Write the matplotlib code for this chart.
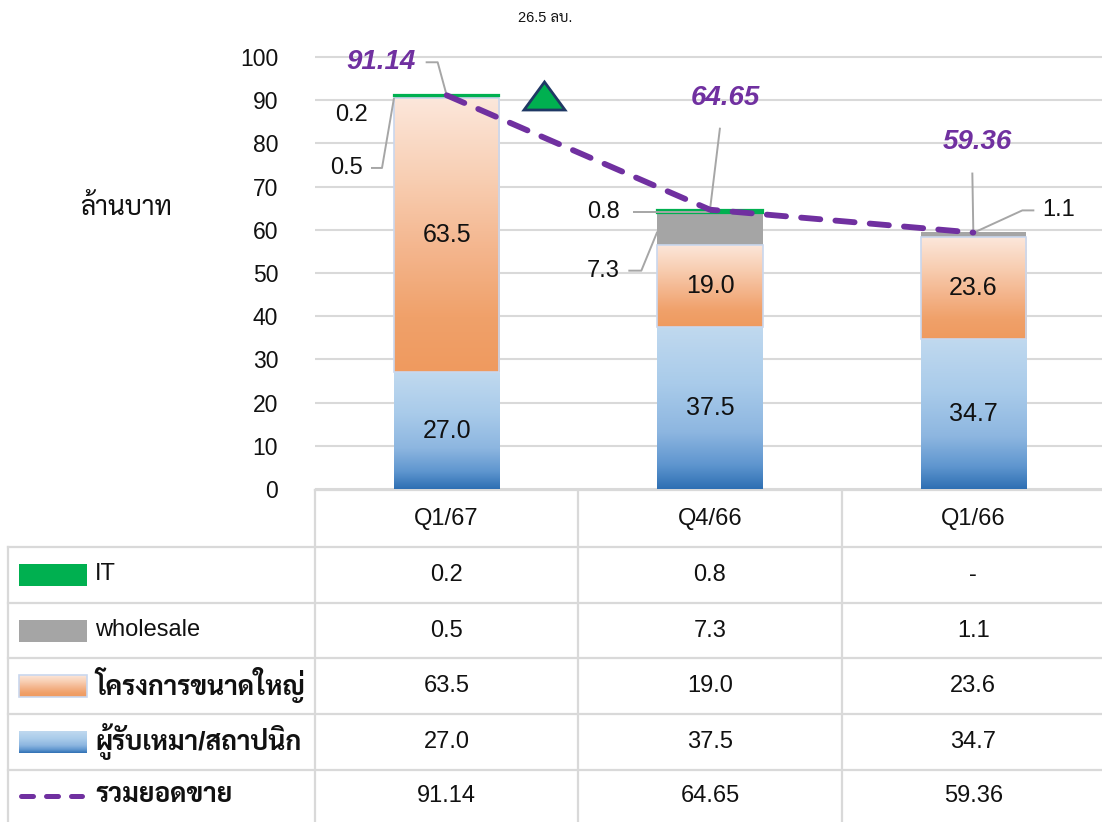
import numpy as np
import matplotlib
matplotlib.use("Agg")
import matplotlib.pyplot as plt
from matplotlib.colors import LinearSegmentedColormap
from matplotlib.patches import Rectangle, Polygon

# ---------------- data ----------------
categories = ["Q1/67", "Q4/66", "Q1/66"]
contractor = [27.0, 37.5, 34.7]        # ผู้รับเหมา/สถาปนิก
large_project = [63.5, 19.0, 23.6]     # โครงการขนาดใหญ่
wholesale = [0.5, 7.3, 1.1]
it = [0.2, 0.8, 0.0]
total = [91.14, 64.65, 59.36]
it_table = ["0.2", "0.8", "-"]
series_names = ["IT", "wholesale", "โครงการขนาดใหญ่", "ผู้รับเหมา/สถาปนิก", "รวมยอดขาย"]
yticks = list(range(0, 101, 10))
y_label = "ล้านบาท"
top_note = "26.5 ลบ."

# ---------------- style ----------------
FAM = ['Liberation Sans', 'Sarabun', 'Noto Sans Thai', 'Athiti', 'DejaVu Sans']
plt.rcParams['font.family'] = FAM

BLUE_CM = LinearSegmentedColormap.from_list(
    "blue", [(0, '#C0D9EF'), (0.35, '#A9CBEA'), (0.65, '#8DB6E0'), (0.85, '#5F96CF'), (1, '#2E6FB3')])
ORANGE_CM = LinearSegmentedColormap.from_list(
    "orange", [(0, '#FCE7DB'), (0.3, '#F8CEB2'), (0.55, '#F4B68E'), (0.8, '#F0A16A'), (1, '#EF9A5F')])
GREEN = '#00B050'
GRAY = '#A5A5A5'
PURPLE = '#7030A0'
GRID = '#D9D9D9'
LEADER = '#A6A6A6'
TXT = '#111111'

W, H = 1102, 822
fig = plt.figure(figsize=(W / 100, H / 100), dpi=100)

# overlay axes in pixel coordinates (top-left origin) for table & annotations
ov = fig.add_axes([0, 0, 1, 1])
ov.set_xlim(0, W)
ov.set_ylim(H, 0)
ov.axis('off')

# main chart axes
ax = fig.add_axes([315 / W, (H - 489) / H, 790 / W, 489 / H])
ax.patch.set_visible(False)
XLIM = (-0.5, 2.5)
YLIM = (0, 489 / 4.32)
ax.set_xlim(*XLIM)
ax.set_ylim(*YLIM)
for s in ax.spines.values():
    s.set_visible(False)
ax.set_xticks([])
ax.set_yticks(yticks)
ax.tick_params(axis='y', length=0, pad=26.5, labelsize=16.5, labelcolor=TXT)
ax.yaxis.grid(True, color=GRID, linewidth=1.5)
ax.set_axisbelow(True)

PX = ov.transData  # pixel transform for annotation artists drawn on the chart axes

x = np.arange(len(categories))
bw = 0.4
c = np.array(contractor)
lp = np.array(large_project)
ws = np.array(wholesale)
itv = np.array(it)

grad = np.linspace(0, 1, 256).reshape(-1, 1)


def grad_fill(axes, patch, cmap, z):
    x0, y0 = patch.get_x(), patch.get_y()
    w, h = patch.get_width(), patch.get_height()
    im = axes.imshow(grad, extent=(x0, x0 + w, y0, y0 + h), origin='upper', cmap=cmap,
                     aspect='auto', interpolation='bicubic', zorder=z)
    im.set_clip_path(patch)


b_blue = ax.bar(x, c, bw, color='none', edgecolor='none', zorder=2)
b_or = ax.bar(x, lp, bw, bottom=c, color='none', edgecolor='#C9D7EE', linewidth=1.2, zorder=3)
b_gray = ax.bar(x, ws, bw, bottom=c + lp, color=GRAY, edgecolor='none', zorder=2)
b_green = ax.bar(x, itv, bw, bottom=c + lp + ws, color=GREEN, edgecolor=GREEN,
                 linewidth=[1.6 if v > 0 else 0 for v in itv], zorder=3)
for p in b_blue.patches:
    grad_fill(ax, p, BLUE_CM, 1.5)
for p in b_or.patches:
    grad_fill(ax, p, ORANGE_CM, 1.5)
ax.set_xlim(*XLIM)
ax.set_ylim(*YLIM)

# inside labels
for i in range(len(categories)):
    ax.text(x[i], c[i] / 2, f"{c[i]:.1f}", ha='center', va='center', fontsize=18, color=TXT, zorder=6)
    ax.text(x[i], c[i] + lp[i] / 2, f"{lp[i]:.1f}", ha='center', va='center', fontsize=18,
            color=TXT, zorder=6)

# total line
ax.plot(x, total, color=PURPLE, linewidth=4.2, linestyle=(0, (3.3, 2.6)),
        dash_capstyle='round', zorder=5, clip_on=False)


def d2p(xd, yd):
    X, Y = ax.transData.transform((xd, yd))
    return X, H - Y


def leader(pts):
    xs, ys = zip(*pts)
    ax.plot(xs, ys, color=LEADER, linewidth=1.4, solid_capstyle='butt',
            transform=PX, clip_on=False, zorder=4)


def label(px, py, s, ha, purple=False, size=17):
    if purple:
        ax.text(px, py, s, ha=ha, va='center', fontsize=20, fontweight='bold', fontstyle='italic',
                color=PURPLE, transform=PX, clip_on=False, zorder=7)
    else:
        ax.text(px, py, s, ha=ha, va='center', fontsize=size, color=TXT,
                transform=PX, clip_on=False, zorder=7)


# ---- Bar 1 (Q1/67) annotations ----
ax0, ay0 = d2p(x[0], total[0])
leader([(ax0, ay0), (ax0 - 9, ay0 - 33), (ax0 - 21, ay0 - 33)])
label(ax0 - 31, ay0 - 33, f"{total[0]:.2f}", 'right', purple=True)

bx, by = d2p(x[0] - bw / 2, c[0] + lp[0] + ws[0] + itv[0])
label(bx - 26, by + 20, f"{itv[0]:.1f}", 'right')
gx, gy = d2p(x[0] - bw / 2, c[0] + lp[0] + ws[0] / 2)
leader([(gx, gy + 1), (gx - 12, gy + 71), (gx - 23, gy + 71)])
label(gx - 31, gy + 71, f"{ws[0]:.1f}", 'right')

# ---- Bar 2 (Q4/66) annotations ----
tx, ty = d2p(x[1], total[1])
leader([(tx + 10, ty - 82), (tx, ty)])
label(tx + 15, ty - 112, f"{total[1]:.2f}", 'center', purple=True)
ix, iy = d2p(x[1], c[1] + lp[1] + ws[1])
leader([(ix - 77, iy - 1.5), (ix, iy - 1.5)])
label(ix - 90, iy - 1.5, f"{itv[1]:.1f}", 'right')
wx, wy = d2p(x[1] - bw / 2, c[1] + lp[1] + ws[1] / 2)
leader([(wx, wy + 2.5), (wx - 16, wy + 41.5), (wx - 29, wy + 41.5)])
label(wx - 38, wy + 41.5, f"{ws[1]:.1f}", 'right')

# ---- Bar 3 (Q1/66) annotations ----
t3x, t3y = d2p(x[2], total[2])
leader([(t3x - 1, t3y - 60), (t3x, t3y)])
label(t3x + 4, t3y - 91, f"{total[2]:.2f}", 'center', purple=True)
w3x, w3y = d2p(x[2], c[2] + lp[2] + ws[2])
leader([(w3x + 1, w3y), (w3x + 49, w3y - 22), (w3x + 61, w3y - 22)])
label(w3x + 69, w3y - 22, f"{ws[2]:.1f}", 'left')

# growth triangle (decoration)
ax.add_patch(Polygon([(524, 110), (565, 110), (544.5, 82)], closed=True, transform=PX, clip_on=False,
                     facecolor=GREEN, edgecolor='#1F3864', linewidth=2, zorder=4))

# y label and top note
ov.text(126, 207, y_label, ha='center', va='center', fontsize=19, color=TXT)
ov.text(545, 18, top_note, ha='center', va='center', fontsize=10.5, color=TXT)

# ---------------- data table ----------------
col_edges = [d2p(v, 0)[0] for v in (-0.5, 0.5, 1.5, 2.5)]
col_centers = [d2p(v, 0)[0] for v in x]
table_top = d2p(0, 0)[1] + 1
row_lines = [547, 603, 658, 714, 770]
left_edge = 8
lw_t = 1.6
ov.plot([col_edges[0], W], [table_top, table_top], color=GRID, linewidth=lw_t)
for yl in row_lines:
    ov.plot([left_edge, W], [yl, yl], color=GRID, linewidth=lw_t)
for xe in col_edges[:3]:
    ov.plot([xe, xe], [table_top, H], color=GRID, linewidth=lw_t)
ov.plot([left_edge, left_edge], [row_lines[0], H], color=GRID, linewidth=lw_t)

header_y = (table_top + row_lines[0]) / 2
row_centers = [(row_lines[i] + row_lines[i + 1]) / 2 for i in range(len(row_lines) - 1)] + [796]

for j, cat in enumerate(categories):
    ov.text(col_centers[j], header_y, cat, ha='center', va='center', fontsize=17, color=TXT)

table_rows = [
    it_table,
    [f"{v:.1f}" for v in wholesale],
    [f"{v:.1f}" for v in large_project],
    [f"{v:.1f}" for v in contractor],
    [f"{v:.2f}" for v in total],
]
for r, vals in enumerate(table_rows):
    for j, v in enumerate(vals):
        ov.text(col_centers[j], row_centers[r], v, ha='center', va='center', fontsize=17, color=TXT)

# legend keys in first column
kx0, kx1, kh = 19, 87, 22
for r, name in enumerate(series_names):
    yc = row_centers[r]
    if r == 0:
        ov.add_patch(Rectangle((kx0, yc - kh / 2), kx1 - kx0, kh, facecolor=GREEN, edgecolor='none'))
    elif r == 1:
        ov.add_patch(Rectangle((kx0, yc - kh / 2), kx1 - kx0, kh, facecolor=GRAY, edgecolor='none'))
    elif r in (2, 3):
        rect = Rectangle((kx0, yc - kh / 2), kx1 - kx0, kh, facecolor='none',
                         edgecolor='#C9D7EE' if r == 2 else 'none', linewidth=1.2, zorder=3)
        ov.add_patch(rect)
        im = ov.imshow(grad, extent=(kx0, kx1, yc + kh / 2, yc - kh / 2), origin='upper',
                       cmap=ORANGE_CM if r == 2 else BLUE_CM, aspect='auto',
                       interpolation='bicubic', zorder=2)
        im.set_clip_path(rect)
    else:
        ov.plot([kx0 + 2, kx1 - 5], [yc, yc], color=PURPLE, linewidth=3.6,
                linestyle=(0, (2.4, 2.6)), dash_capstyle='round')
    if r >= 2:
        ov.text(95, yc - 1, name, ha='left', va='center', fontsize=19, fontweight='bold', color=TXT)
    else:
        ov.text(95, yc - 1, name, ha='left', va='center', fontsize=17, color=TXT)

ov.set_xlim(0, W)
ov.set_ylim(H, 0)

fig.savefig("out.png", dpi=100)
